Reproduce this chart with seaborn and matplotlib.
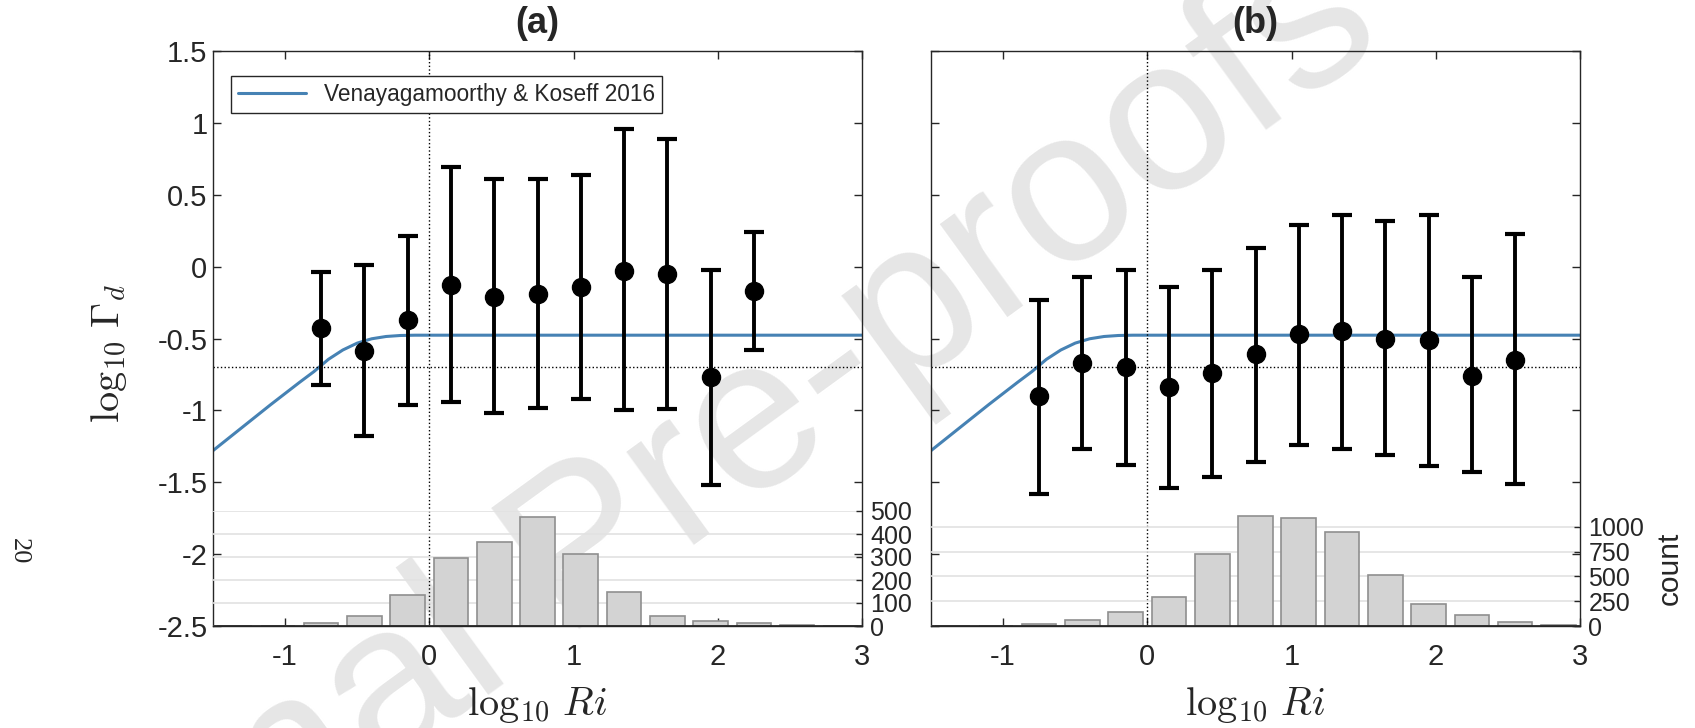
import matplotlib

matplotlib.use("Agg")
import matplotlib.pyplot as plt
import numpy as np
import pandas as pd
import seaborn as sns

# log10 Ri bin centres for the binned mixing coefficient
ri_a = [-0.75, -0.45, -0.15, 0.15, 0.45, 0.75, 1.05, 1.35, 1.65, 1.95, 2.25]
gam_a = [-0.43, -0.59, -0.37, -0.13, -0.21, -0.19, -0.14, -0.03, -0.05, -0.77, -0.17]
gam_a_hi = [-0.04, 0.01, 0.21, 0.69, 0.61, 0.61, 0.64, 0.96, 0.89, -0.02, 0.24]
gam_a_lo = [-0.82, -1.18, -0.96, -0.94, -1.02, -0.98, -0.92, -1.00, -0.99, -1.52, -0.58]

ri_b = [-0.75, -0.45, -0.15, 0.15, 0.45, 0.75, 1.05, 1.35, 1.65, 1.95, 2.25, 2.55]
gam_b = [-0.90, -0.67, -0.70, -0.84, -0.74, -0.61, -0.47, -0.45, -0.50, -0.51, -0.76, -0.65]
gam_b_hi = [-0.23, -0.07, -0.02, -0.14, -0.02, 0.13, 0.29, 0.36, 0.32, 0.36, -0.07, 0.23]
gam_b_lo = [-1.58, -1.27, -1.38, -1.54, -1.46, -1.36, -1.24, -1.27, -1.31, -1.39, -1.43, -1.51]

# histogram of samples per bin
hist_ri = [-1.35, -1.05, -0.75, -0.45, -0.15, 0.15, 0.45, 0.75, 1.05, 1.35, 1.65, 1.95, 2.25, 2.55, 2.85]
counts_a = [0, 1, 12, 45, 134, 297, 365, 472, 314, 147, 42, 23, 13, 6, 1]
counts_b = [0, 1, 20, 60, 140, 288, 722, 1110, 1090, 950, 518, 224, 110, 40, 13]

# Venayagamoorthy & Koseff 2016 curve
vk_ri = [-1.5, -1.3, -1.1, -0.9, -0.8, -0.7, -0.6, -0.5, -0.4, -0.3, -0.2, -0.1, 0.0, 3.0]
vk_gam = [-1.28, -1.12, -0.96, -0.805, -0.73, -0.645, -0.58, -0.532, -0.502, -0.486,
          -0.479, -0.477, -0.477, -0.477]

xticks = [-1, 0, 1, 2, 3]
xticklabels = ["-1", "0", "1", "2", "3"]
yticks = [1.5, 1, 0.5, 0, -0.5, -1, -1.5, -2, -2.5]
yticklabels = ["1.5", "1", "0.5", "0", "-0.5", "-1", "-1.5", "-2", "-2.5"]
count_ticks_a = [0, 100, 200, 300, 400, 500]
count_ticks_b = [0, 250, 500, 750, 1000]

sns.set_theme(style="ticks")
plt.rcParams["font.family"] = ["Liberation Sans", "DejaVu Sans"]
plt.rcParams["mathtext.fontset"] = "cm"
plt.rcParams["axes.unicode_minus"] = False

W, H = 1695, 728
fig = plt.figure(figsize=(W / 100, H / 100), dpi=100)
fig.patch.set_facecolor("white")

fig.text(630 / W, 1 - 522 / H, "Journal Pre-proofs", rotation=36, fontsize=157,
         color="#e6e6e6", ha="center", va="center", zorder=-1)
fig.text(19 / W, 1 - 551 / H, "20", rotation=-90, fontsize=19, family="Liberation Serif",
         ha="center", va="center")

edge = "#262626"
blue = "#4682b4"


def panel(left, width, ri, gam, lo, hi, counts, count_ticks, count_max, title, first):
    ax = fig.add_axes([left / W, 1 - 626 / H, width / W, 575 / H], zorder=1)
    ax.set_facecolor("none")
    df = pd.DataFrame({"ri": vk_ri, "gam": vk_gam})
    sns.lineplot(data=df, x="ri", y="gam", ax=ax, color=blue, lw=2.2,
                 label="Venayagamoorthy & Koseff 2016" if first else None, legend=first)
    gam = np.array(gam)
    yerr = [gam - np.array(lo), np.array(hi) - gam]
    ax.errorbar(ri, gam, yerr=yerr, fmt="o", color="black", ms=13, elinewidth=2.8,
                capsize=7, capthick=3, zorder=4)
    ax.axvline(0, color="black", ls=":", lw=1)
    ax.axhline(-0.7, color="black", ls=":", lw=1)
    ax.set_xlim(-1.5, 3)
    ax.set_ylim(-2.5, 1.5)
    ax.set_xticks(xticks, xticklabels)
    ax.set_yticks(yticks, yticklabels if first else [])
    ax.tick_params(direction="in", length=6, width=1, colors=edge, labelsize=21,
                   top=True, right=True, labelcolor="#262626")
    ax.tick_params(axis="x", pad=12)
    ax.tick_params(axis="y", pad=4)
    for s in ax.spines.values():
        s.set_color(edge)
        s.set_linewidth(1)
    ax.set_xlabel(r"$\log_{10}\,Ri$", fontsize=29, labelpad=10)
    if first:
        ax.set_ylabel(r"$\log_{10}\,\Gamma_d$", fontsize=29)
        ax.yaxis.set_label_coords(-0.13, 0.475)
        leg = ax.legend(loc="upper left", bbox_to_anchor=(18 / width, 1 - 25 / 575),
                        fontsize=16.3, frameon=True, fancybox=False, framealpha=1,
                        edgecolor=edge, handlelength=3.0, borderpad=0.3,
                        borderaxespad=0)
        leg.get_frame().set_linewidth(1)
    else:
        ax.set_ylabel("")
    ax.set_title(title, fontsize=26, fontweight="bold", pad=13)

    axh = fig.add_axes([left / W, 1 - 626 / H, width / W, 115 / H], zorder=2)
    axh.set_facecolor("none")
    axh.bar(hist_ri, counts, width=0.24, color="#d3d3d3", edgecolor="#8f8f8f",
            linewidth=1.2, zorder=3)
    axh.axhline(0, color=edge, lw=2, zorder=4)
    axh.set_xlim(-1.5, 3)
    axh.set_ylim(0, count_max)
    axh.set_xticks([])
    axh.set_yticks(count_ticks)
    axh.yaxis.tick_right()
    axh.yaxis.grid(True, color="#e2e2e2", lw=1.2, zorder=0)
    axh.set_axisbelow(True)
    axh.tick_params(axis="y", direction="in", length=4, width=1, colors=edge,
                    labelsize=18, pad=6, labelcolor="#262626")
    for s in axh.spines.values():
        s.set_visible(False)
    if not first:
        axh.yaxis.set_label_position("right")
        axh.set_ylabel("count", fontsize=21.5, color="#262626", labelpad=8)
    return ax


panel(213, 649, ri_a, gam_a, gam_a_lo, gam_a_hi, counts_a, count_ticks_a, 500, "(a)", True)
panel(931, 649, ri_b, gam_b, gam_b_lo, gam_b_hi, counts_b, count_ticks_b, 1160, "(b)", False)

fig.savefig("out.png", dpi=100)
